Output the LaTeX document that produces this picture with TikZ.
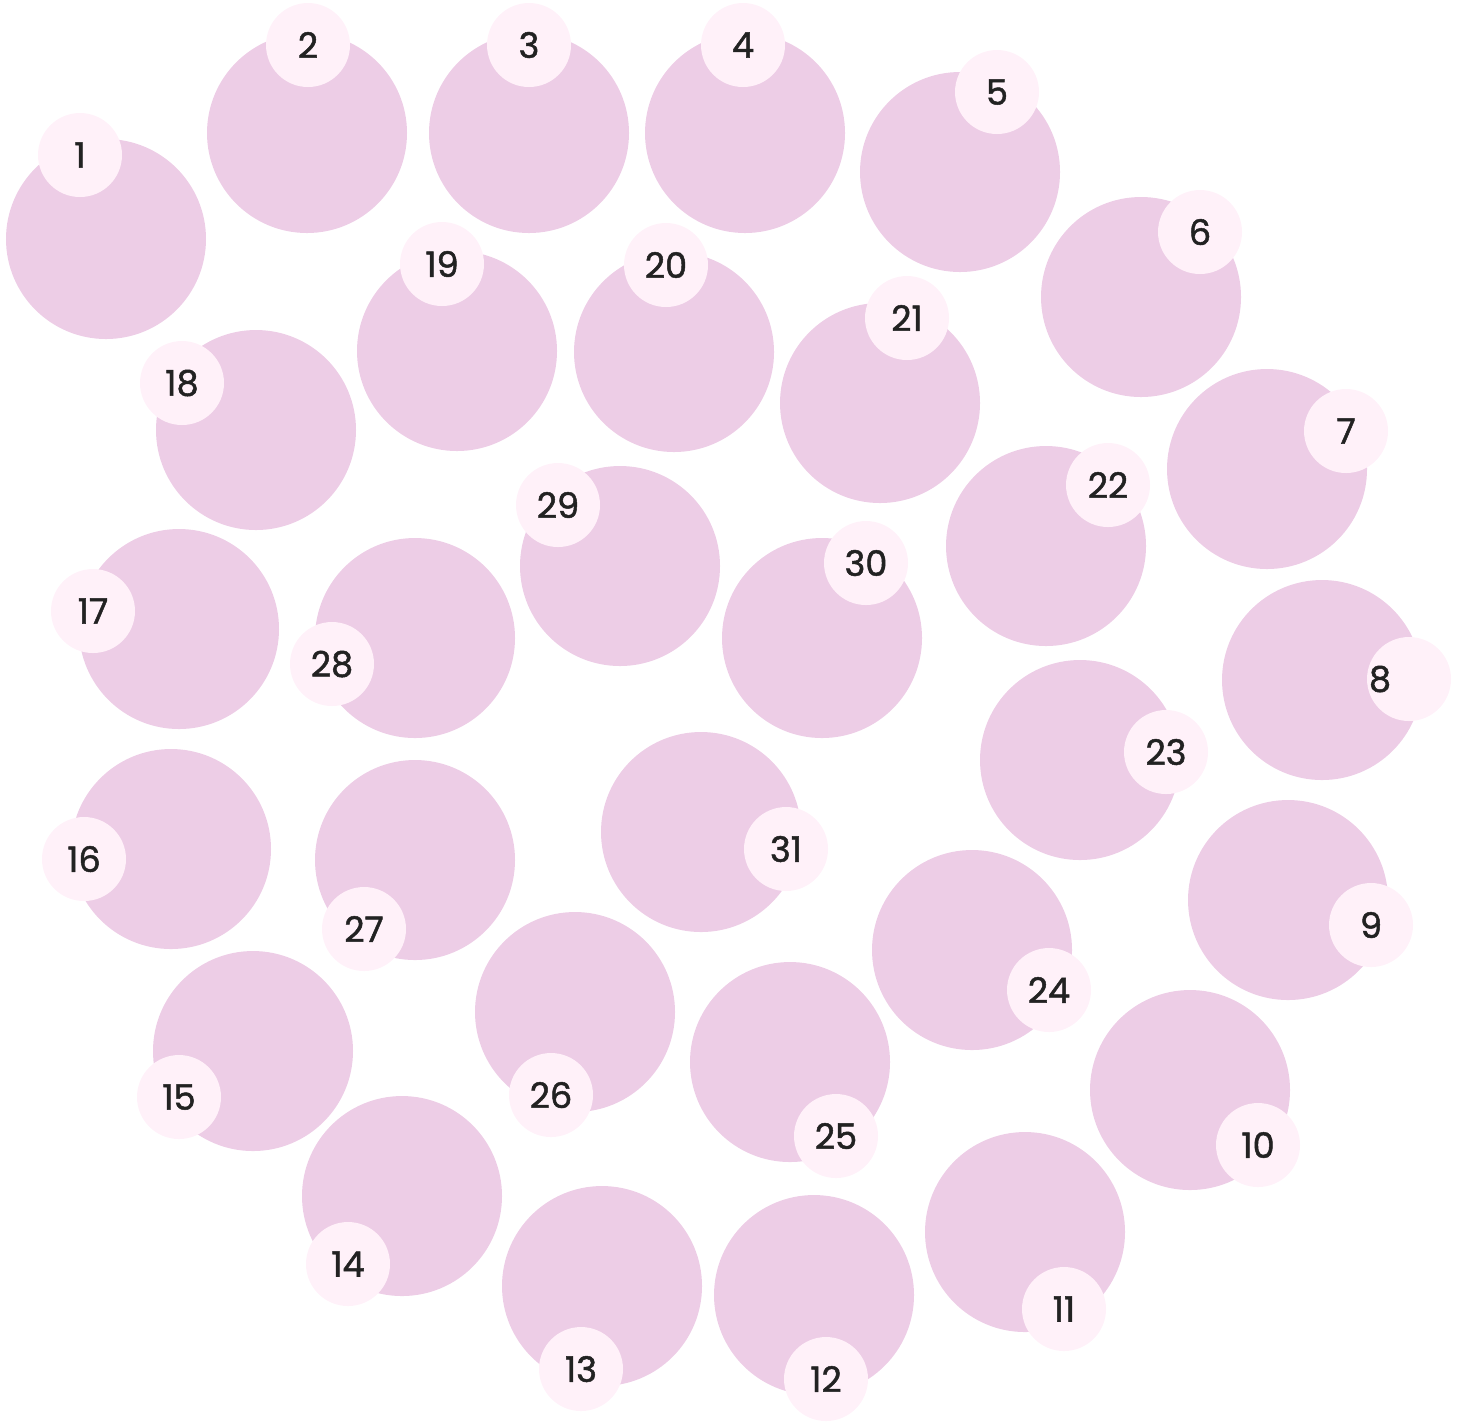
\documentclass[tikz,border=0pt]{standalone}
\usepackage{fontspec}
\setmainfont{Poppins}
\newfontfamily\tagfont{Poppins}[FakeBold=1.4]
\usepackage{tikz}
\definecolor{blobpink}{HTML}{EDCDE6}
\definecolor{tagpink}{HTML}{FFF1F9}
\definecolor{tagink}{HTML}{222222}

\begin{document}
\begin{tikzpicture}[
    blob/.style={circle, fill=blobpink, inner sep=0pt, minimum size=2cm},
    tag/.style={circle, fill=tagpink, inner sep=0pt, minimum size=0.84cm, text=tagink, font=\tagfont\fontsize{10}{12}\selectfont},
    tagtext/.style={inner sep=0pt, text=tagink, font=\tagfont\fontsize{10}{12}\selectfont}
]
\useasboundingbox (0,0) rectangle (14.62,-14.22);
% Outer ring
\node[blob] at (1.06,-2.39)  (b1)  {};
\node[blob] at (3.07,-1.33)  (b2)  {};
\node[blob] at (5.29,-1.33)  (b3)  {};
\node[blob] at (7.45,-1.33)  (b4)  {};
\node[blob] at (9.60,-1.72)  (b5)  {};
\node[blob] at (11.41,-2.97) (b6)  {};
\node[blob] at (12.67,-4.69) (b7)  {};
\node[blob] at (13.22,-6.80) (b8)  {};
\node[blob] at (12.88,-9.00) (b9)  {};
\node[blob] at (11.90,-10.90)(b10) {};
\node[blob] at (10.25,-12.32)(b11) {};
\node[blob] at (8.14,-12.95) (b12) {};
\node[blob] at (6.02,-12.86) (b13) {};
\node[blob] at (4.02,-11.96) (b14) {};
\node[blob] at (2.53,-10.51) (b15) {};
\node[blob] at (1.71,-8.49)  (b16) {};
\node[blob] at (1.79,-6.29)  (b17) {};
\node[blob] at (2.56,-4.30)  (b18) {};
% Middle ring
\node[blob] at (4.57,-3.51)  (b19) {};
\node[blob] at (6.74,-3.52)  (b20) {};
\node[blob] at (8.80,-4.03)  (b21) {};
\node[blob] at (10.46,-5.46) (b22) {};
\node[blob] at (10.80,-7.60) (b23) {};
\node[blob] at (9.72,-9.50)  (b24) {};
\node[blob] at (7.90,-10.62) (b25) {};
\node[blob] at (5.75,-10.12) (b26) {};
\node[blob] at (4.15,-8.60)  (b27) {};
\node[blob] at (4.15,-6.38)  (b28) {};
% Inner ring
\node[blob] at (6.20,-5.66)  (b29) {};
\node[blob] at (8.22,-6.38)  (b30) {};
\node[blob] at (7.01,-8.32)  (b31) {};

% Number tags
\node[tag] at (0.80,-1.55)   (t1)  {1};
\node[tag] at (3.08,-0.45)   (t2)  {2};
\node[tag] at (5.29,-0.45)   (t3)  {3};
\node[tag] at (7.43,-0.45)   (t4)  {4};
\node[tag] at (9.97,-0.92)   (t5)  {5};
\node[tag] at (12.00,-2.32)  (t6)  {6};
\node[tag] at (13.46,-4.31)  (t7)  {7};
\node[tag] at (14.09,-6.79)  (t8)  {};
\node[tagtext] at (13.80,-6.79) (l8) {8};
\node[tag] at (13.71,-9.25)  (t9)  {9};
\node[tag] at (12.58,-11.45) (t10) {10};
\node[tag] at (10.64,-13.09) (t11) {11};
\node[tag] at (8.26,-13.79)  (t12) {12};
\node[tag] at (5.81,-13.69)  (t13) {13};
\node[tag] at (3.48,-12.64)  (t14) {14};
\node[tag] at (1.79,-10.97)  (t15) {15};
\node[tag] at (0.84,-8.59)   (t16) {16};
\node[tag] at (0.93,-6.11)   (t17) {17};
\node[tag] at (1.82,-3.83)   (t18) {18};
\node[tag] at (4.42,-2.64)   (t19) {19};
\node[tag] at (6.66,-2.65)   (t20) {20};
\node[tag] at (9.07,-3.18)   (t21) {21};
\node[tag] at (11.08,-4.85)  (t22) {22};
\node[tag] at (11.66,-7.52)  (t23) {23};
\node[tag] at (10.49,-9.90)  (t24) {24};
\node[tag] at (8.36,-11.36)  (t25) {25};
\node[tag] at (5.51,-10.95)  (t26) {26};
\node[tag] at (3.64,-9.29)   (t27) {27};
\node[tag] at (3.32,-6.64)   (t28) {28};
\node[tag] at (5.58,-5.05)   (t29) {29};
\node[tag] at (8.66,-5.63)   (t30) {30};
\node[tag] at (7.86,-8.49)   (t31) {31};
\end{tikzpicture}
\end{document}
